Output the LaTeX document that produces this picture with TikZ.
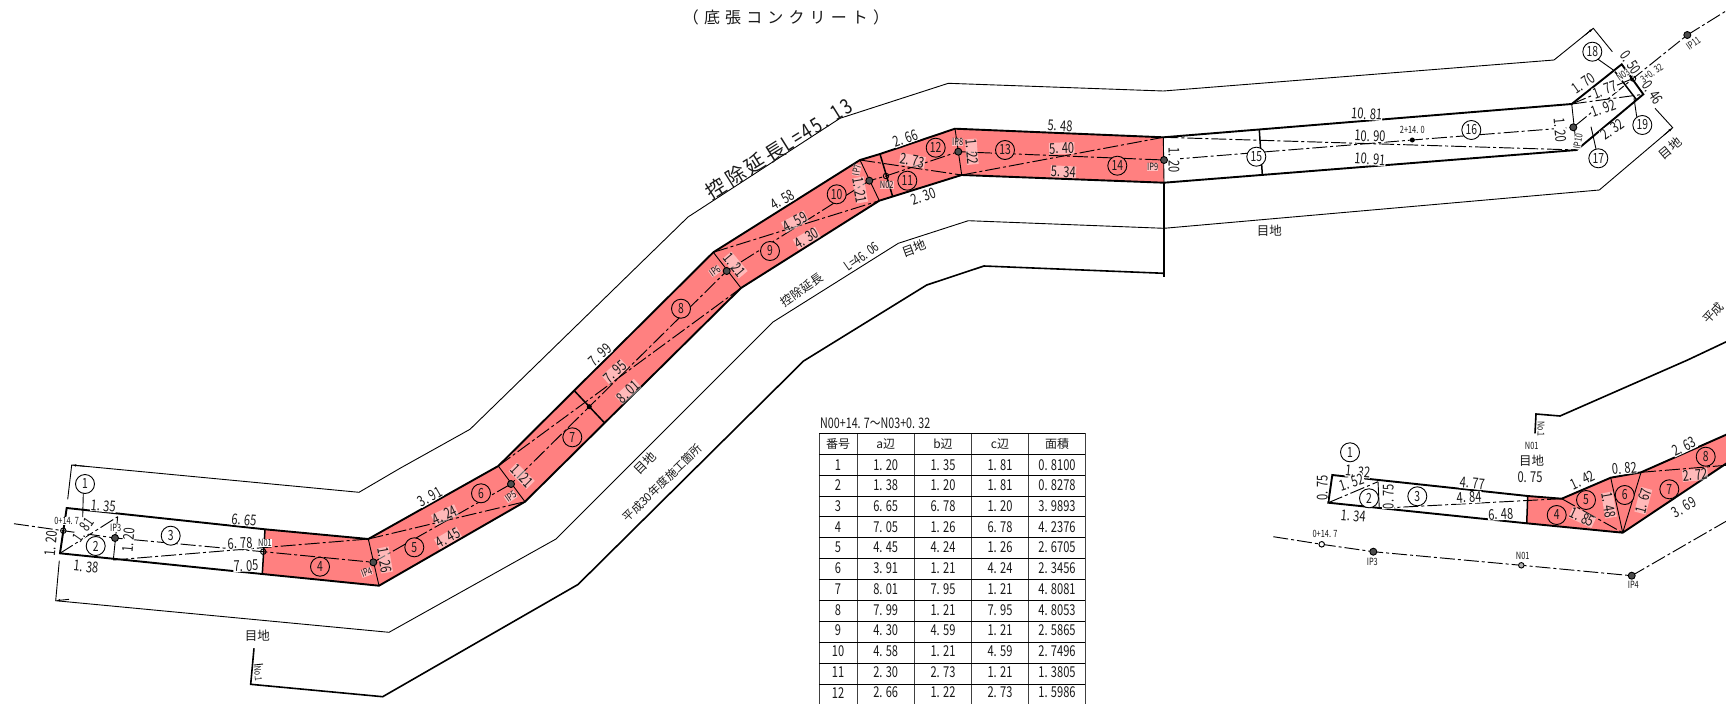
\documentclass[tikz,border=0pt]{standalone}
\usepackage{fontspec}
\usetikzlibrary{arrows.meta}
\setmainfont{Noto Sans CJK JP}
\newfontfamily\nar[FakeStretch=0.74]{Noto Sans CJK JP}
\newfontfamily\narsp[FakeStretch=0.8,LetterSpace=10]{Noto Sans CJK JP}
\newfontfamily\jp{Noto Sans CJK JP}
\newfontfamily\jpsp[LetterSpace=32]{Noto Sans CJK JP}
\newfontfamily\jpspb[LetterSpace=16]{Noto Sans CJK JP}
\definecolor{pink}{RGB}{255,128,128}
\definecolor{ink}{RGB}{25,25,25}
\newcount\lc
% auto-named labels: [rot]{x}{y}{text}
\newcommand{\dimW}[4][0]{\global\advance\lc by 1\node[dimw,rotate=#1] (w\the\lc) at (#2,#3) {#4};}
\newcommand{\dimR}[4][0]{\global\advance\lc by 1\node[dimr,rotate=#1] (r\the\lc) at (#2,#3) {#4};}
\newcommand{\tagW}[4][0]{\global\advance\lc by 1\node[tagw,rotate=#1] (g\the\lc) at (#2,#3) {#4};}
\newcommand{\tagR}[4][0]{\global\advance\lc by 1\node[tagr,rotate=#1] (h\the\lc) at (#2,#3) {#4};}
\newcommand{\kanji}[4][0]{\global\advance\lc by 1\node[kan,rotate=#1] (k\the\lc) at (#2,#3) {#4};}
\newcommand{\circW}[3]{\node[numw] (cw#3) at (#1,#2) {#3};}
\newcommand{\circR}[3]{\node[numr] (cr#3) at (#1,#2) {#3};}
\newcommand{\circS}[3]{\node[numw] (cs#3) at (#1,#2) {#3};}
\newcommand{\circT}[3]{\node[numr] (ct#3) at (#1,#2) {#3};}
\tikzset{
 edge/.style={line width=1.9pt,black,line join=miter},
 sect/.style={line width=1.5pt,black},
 thinsect/.style={line width=0.9pt,black},
 fine/.style={line width=0.9pt,black},
 chain/.style={line width=0.95pt,black,dash pattern=on 15pt off 3pt on 3pt off 3pt},
 dimw/.style={font=\nar\fontsize{15}{16}\selectfont,text=ink,fill=white,inner sep=0.3pt},
 dimr/.style={font=\nar\fontsize{15}{16}\selectfont,text=ink,fill=white,fill opacity=.45,text opacity=1,inner sep=0.3pt},
 tagw/.style={font=\nar\fontsize{10}{11}\selectfont,text=ink,fill=white,inner sep=0.2pt},
 tagr/.style={font=\nar\fontsize{10}{11}\selectfont,text=ink,fill=white,fill opacity=.5,text opacity=1,inner sep=0.2pt},
 kan/.style={font=\jp\fontsize{12.5}{14}\selectfont,text=ink,inner sep=0pt},
 numw/.style={circle,draw=black,line width=0.9pt,fill=white,minimum size=19pt,inner sep=0pt,font=\nar\fontsize{14}{15}\selectfont,text=ink},
 numr/.style={numw,fill=pink},
 ipt/.style={circle,draw=black,fill=black!70,line width=0.9pt,minimum size=7pt,inner sep=0pt},
 npt/.style={circle,draw=black,fill=none,line width=0.9pt,minimum size=5.5pt,inner sep=0pt},
 dpt/.style={circle,fill=black,minimum size=5pt,inner sep=0pt},
 cell/.style={font=\nar\fontsize{15}{16}\selectfont,text=ink,inner sep=0pt},
 arr/.style={line width=0.9pt,-{Latex[length=4.5pt,width=2.6pt]}},
}
\begin{document}
\begin{tikzpicture}[x=1pt,y=-1pt]
\useasboundingbox (0,0) rectangle (1726,704);
\clip (0,0) rectangle (1726,704);
% ---------- main outline points
\coordinate (T0) at (66.7,508);
\coordinate (Tn) at (265,529.3);
\coordinate (T1) at (368.3,539);
\coordinate (T2) at (498.3,466);
\coordinate (T3) at (713.3,252.3);
\coordinate (T4) at (860,160);
\coordinate (T4b) at (880,154);
\coordinate (T5) at (955,128.7);
\coordinate (T6) at (1163.3,137.3);
\coordinate (T7) at (1571.7,104);
\coordinate (T8) at (1621.7,64.3);
\coordinate (E) at (1643.3,94.3);
\coordinate (B7) at (1576.7,150);
\coordinate (B6) at (1164,182.7);
\coordinate (B5) at (961.7,175);
\coordinate (B4c) at (892.7,196.7);
\coordinate (B4) at (879.3,200.7);
\coordinate (B3) at (741,288);
\coordinate (B2) at (525,501.7);
\coordinate (B1) at (379,585.7);
\coordinate (Bn) at (262.3,574);
\coordinate (B0) at (60,553.3);
% station points
\coordinate (P0) at (63.3,530.7);
\coordinate (P3) at (115,538);
\coordinate (P4) at (263.3,551.7);
\coordinate (P5) at (373.3,562.3);
\coordinate (P6) at (511,484);
\coordinate (P7) at (589.3,406.7);
\coordinate (P8) at (726.7,271);
\coordinate (P9) at (869.3,180.7);
\coordinate (P10) at (886,176);
\coordinate (P11) at (958.3,151.7);
\coordinate (P12) at (1164,160);
\coordinate (P13) at (1412.3,140);
\coordinate (P14) at (1573.3,127.3);
\coordinate (P15) at (1633,78.5);
\coordinate (P16) at (1687.3,35);
\coordinate (Pa) at (14,523.7);
\coordinate (Pb) at (1730,8.5);
% red fill
\fill[pink] (Tn)--(T1)--(T2)--(T3)--(T4)--(T4b)--(T5)--(T6)--(B6)--(B5)--(B4)--(B3)--(B2)--(B1)--(Bn)--cycle;
% thin outer lines
\draw[fine] (67.7,499.3)--(71.7,465)--(359,492.3)--(400,468.3)--(470,429.3)--(688,217)--(840,118.3)--(948.3,83.3)--(1163.3,91)--(1554,60)--(1593.3,28.3)--(1612.3,51.7);
\draw[fine] (59.3,560.7)--(55.7,600.7)--(389,632.3)--(556,539)--(773,322)--(898.3,243.3)--(968.3,220.7)--(1164,228.3)--(1599.3,190)--(1672.7,127.7)--(1655,108.3);
\draw[arr] (85,466.3)--(71.7,465);
\draw[arr] (69,599.3)--(55.7,600.7);
\draw[arr] (1585,35)--(1593.3,28.3);
\draw[arr] (1664,135)--(1672.7,127.7);
% thick lower line
\draw[line width=1.6pt] (254,648.3)--(250.7,684.3)--(382.7,696.7)--(578,584.5)--(803.6,361)--(926.7,285)--(984,266)--(1164,273.3);
\draw[line width=1.3pt] (1164,182.7)--(1164,276.7);
\draw[fine] (254,665)--(263,664);
% diagonals
\draw[chain] (B0)--(117.7,516.7);
\draw[chain] (113.3,560)--(T1);
\draw[chain] (T1)--(B2);
\draw[chain] (T2)--(B3);
\draw[chain] (T3)--(B4);
\draw[chain] (T4)--(B5);
\draw[chain] (B5)--(T6);
\draw[chain] (T6)--(B7);
\draw[chain] (T7)--(E);
\draw[chain] (T7)--(P15);
% centre line
\draw[chain] (Pa)--(P0)--(P3)--(P4)--(P5)--(P6)--(P7)--(P8)--(P9)--(P10)--(P11)--(P12)--(P13)--(P14)--(P15)--(P16)--(Pb);
% thin sections
\draw[thinsect] (117.7,516.7)--(113.3,560);
\draw[thinsect] (T1)--(B1);
\draw[thinsect] (T2)--(B2);
\draw[thinsect] (T3)--(B3);
\draw[thinsect] (T4)--(B4);
\draw[thinsect] (T5)--(B5);
\draw[thinsect] (T6)--(B6);
\draw[thinsect] (T7)--(B7);
\draw[thinsect] (T0)--(B0);
% thick sections
\draw[sect] (Tn)--(Bn);
\draw[sect] (574.3,390.7)--(604,422.3);
\draw[sect] (T4b)--(B4c);
\draw[sect] (1259.3,130)--(1262.3,174.3);
\draw[sect] (1615,71.7)--(1636.7,100);
% outline
\draw[edge] (T0)--(Tn)--(T1)--(T2)--(T3)--(T4)--(T4b)--(T5)--(T6)--(T7)--(T8)--(E)--(B7)--(B6)--(B5)--(B4)--(B3)--(B2)--(B1)--(Bn)--(B0)--cycle;
% leaders
\draw[fine] (83.3,493)--(82.7,517);
\draw[fine] (1596.7,58.3)--(1613.3,70);
\draw[fine] (1636.7,116.7)--(1634,98.3);
\draw[fine] (1596,149)--(1591,126.7);
% points
\node[npt] (n0) at (P0) {};
\node[ipt] (i3) at (P3) {};
\node[npt] (n1) at (P4) {};
\node[ipt] (i4) at (P5) {};
\node[ipt] (i5) at (P6) {};
\node[dpt] (n15) at (P7) {};
\node[ipt] (i6) at (P8) {};
\node[ipt] (i7) at (P9) {};
\node[npt] (n2) at (P10) {};
\node[ipt] (i8) at (P11) {};
\node[ipt] (i9) at (P12) {};
\node[dpt] (n24) at (P13) {};
\node[ipt] (i10) at (P14) {};
\node[npt] (n3) at (P15) {};
\node[ipt] (i11) at (P16) {};
% dimension labels, white part
\dimW[-5]{103.3}{506}{1. 35}
\dimW[-5]{244}{520}{6. 65}
\dimW[3]{240}{543.3}{6. 78}
\dimW[2]{246}{565.7}{7. 05}
\dimW[-6]{86}{566.7}{1. 38}
\dimW[85]{50.7}{543.3}{1. 20}
\dimW[85]{128.3}{540}{1. 20}
\dimW[55]{83.3}{530}{1. 81}
\tagW{66.7}{521}{0+14. 7}
\tagW{115.7}{527.7}{IP3}
\tagW{265}{542.7}{N01}
\dimW[30]{430}{496.7}{3. 91}
\dimW[42]{600}{355}{7. 99}
\dimW[30]{782.7}{200}{4. 58}
\dimW[20]{905.7}{138.3}{2. 66}
\dimW[20]{923.3}{196.7}{2. 30}
\dimW[-3]{1060}{125.7}{5. 48}
\dimW[-90]{1174}{160}{1. 20}
\dimW[-4]{1366.7}{114}{10. 81}
\dimW[-2]{1370}{136}{10. 90}
\dimW[-4]{1370}{159.3}{10. 91}
\tagW{1412.3}{130}{2+14. 0}
\dimW[-85]{1560}{130}{1. 20}
\tagW[80]{1578}{141.7}{IP10}
\dimW[35]{1583.3}{83.3}{1. 70}
\dimW[20]{1605}{90}{1. 77}
\dimW[20]{1603.3}{108.3}{1. 92}
\dimW[35]{1612.7}{129.3}{2. 32}
\dimW[-55]{1630.7}{62.7}{0. 50}
\tagW[35]{1623}{75}{N03}
\tagW[35]{1651.7}{73.3}{3+0. 32}
\dimW[-55]{1652.7}{92.7}{0. 46}
\tagW[35]{1693.3}{43.3}{IP11}
% labels on red
\tagR[20]{366.7}{572.3}{IP4}
\dimR[-80]{385}{560}{1. 26}
\dimR[25]{445}{515}{4. 24}
\dimR[30]{448}{538}{4. 45}
\dimR[-45]{521.7}{476}{1. 21}
\tagR[35]{510.7}{496.7}{IP5}
\dimR[42]{615}{371.7}{7. 95}
\dimR[42]{628.3}{391.7}{8. 01}
\dimR[-50]{735}{265}{1. 21}
\tagR[35]{715}{271}{IP6}
\dimR[28]{795}{221.7}{4. 59}
\dimR[30]{806.7}{238.3}{4. 30}
\dimR[-10]{912.3}{160.7}{2. 73}
\dimR[-80]{860}{190}{1. 21}
\tagR[80]{856.7}{170}{IP7}
\tagR{886.7}{185}{N02}
\tagR{957.7}{142.3}{IP8}
\dimR[-85]{971.7}{151.7}{1. 22}
\dimR[2]{1061.7}{148.3}{5. 40}
\dimR[-3]{1063.3}{171.7}{5. 34}
\tagR{1152.7}{167.3}{IP9}
% circled numbers
\circW{85}{484}{1}
\circW{95.7}{546}{2}
\circW{170.7}{535.7}{3}
\circR{320}{566.7}{4}
\circR{414.3}{547.3}{5}
\circR{481}{493.3}{6}
\circR{572.3}{437.3}{7}
\circR{681}{308.7}{8}
\circR{770}{251}{9}
\circR{836.7}{194.3}{10}
\circR{907.3}{180.7}{11}
\circR{935.7}{147.7}{12}
\circR{1005}{150}{13}
\circR{1117.3}{165.7}{14}
\circW{1256.3}{156.7}{15}
\circW{1471.3}{130}{16}
\circW{1598.3}{158.3}{17}
\circW{1592.3}{51.7}{18}
\circW{1642.3}{125}{19}
% kanji labels
\node[font=\jpsp\fontsize{16}{18}\selectfont,text=ink,inner sep=0pt] (title) at (786,17.6) {（底張コンクリート）};
\node[font=\jpspb\fontsize{20}{22}\selectfont,text=ink,inner sep=0pt,rotate=32] (lenA) at (779,149) {控除延長{\narsp\fontsize{21}{22}\selectfont L=45. 13}};
\node[font=\jp\fontsize{12}{14}\selectfont,text=ink,inner sep=0pt,rotate=35] (lenB1) at (801.7,290) {控除延長};
\node[font=\nar\fontsize{13.5}{14}\selectfont,text=ink,inner sep=0pt,rotate=35] (lenB2) at (861.7,256.7) {L=46. 06};
\kanji[20]{914.3}{248.3}{目地}
\kanji{257.3}{635.7}{目地}
\kanji{1269.3}{231}{目地}
\kanji[40]{1670}{148.3}{目地}
\kanji[45]{645}{463}{目地}
\node[font=\jp\fontsize{11.5}{14}\selectfont,text=ink,inner sep=0pt,rotate=44] (heisei) at (662.5,483) {平成30年度施工箇所};
\node[font=\nar\fontsize{9.5}{10}\selectfont,text=ink,inner sep=0pt,rotate=-85] (no1a) at (258,674) {No.1};
% ---------- table
\node[font=\nar\fontsize{14.5}{15}\selectfont,text=ink,inner sep=0pt,anchor=west] (ttl) at (820,423.3) {N00+14. 7～N03+0. 32};
\foreach \xx in {819.3,857.3,914.3,971.7,1028.7,1085.3}
  \draw[line width=1pt,black!75] (\xx,433.3)--(\xx,704);
\foreach \yy in {433.3,454.3,475.3,496,516.7,537.7,558.3,579.3,600.7,621.3,642.3,663.3,684}
  \draw[line width=1pt,black] (819.3,\yy)--(1085.3,\yy);
\node[font=\jp\fontsize{12}{13}\selectfont,text=ink,inner sep=0pt] (h0) at (838,444) {番号};
\node[font=\jp\fontsize{12}{13}\selectfont,text=ink,inner sep=0pt] (h1) at (885.7,444) {a辺};
\node[font=\jp\fontsize{12}{13}\selectfont,text=ink,inner sep=0pt] (h2) at (943,444) {b辺};
\node[font=\jp\fontsize{12}{13}\selectfont,text=ink,inner sep=0pt] (h3) at (1000,444) {c辺};
\node[font=\jp\fontsize{12}{13}\selectfont,text=ink,inner sep=0pt] (h4) at (1057,444) {面積};
\foreach \n/\a/\b/\c/\s in {
 1/1. 20/1. 35/1. 81/0. 8100, 2/1. 38/1. 20/1. 81/0. 8278, 3/6. 65/6. 78/1. 20/3. 9893,
 4/7. 05/1. 26/6. 78/4. 2376, 5/4. 45/4. 24/1. 26/2. 6705, 6/3. 91/1. 21/4. 24/2. 3456,
 7/8. 01/7. 95/1. 21/4. 8081, 8/7. 99/1. 21/7. 95/4. 8053, 9/4. 30/4. 59/1. 21/2. 5865,
 10/4. 58/1. 21/4. 59/2. 7496, 11/2. 30/2. 73/1. 21/1. 3805, 12/2. 66/1. 22/2. 73/1. 5986}{
  \node[cell] (t\n n) at (838,{444+20.72*\n}) {\n};
  \node[cell] (t\n a) at (885.7,{444+20.72*\n}) {\a};
  \node[cell] (t\n b) at (943,{444+20.72*\n}) {\b};
  \node[cell] (t\n c) at (1000,{444+20.72*\n}) {\c};
  \node[cell] (t\n s) at (1057,{444+20.72*\n}) {\s};
}
% ---------- second plan, lower right
\coordinate (a0) at (1332.3,475);
\coordinate (a1) at (1378,481.7);
\coordinate (an) at (1527.7,496);
\coordinate (a2) at (1561.7,498.7);
\coordinate (a3) at (1610.7,477.7);
\coordinate (a4) at (1641,472.3);
\coordinate (a5) at (1730,433);
\coordinate (b0) at (1328.3,502.7);
\coordinate (b1) at (1379.3,508.3);
\coordinate (bn) at (1526.7,523.3);
\coordinate (b2) at (1622.7,532.7);
\coordinate (b3) at (1730,461);
\coordinate (a6) at (1730,465);
\fill[pink] (an)--(a2)--(a3)--(a4)--(a5)--(b3)--(b2)--(bn)--cycle;
\draw[chain] (b0)--(a1);
\draw[chain] (b1)--(a2);
\draw[chain] (a2)--(b2);
\draw[chain] (a4)--(a6);
\draw[thinsect] (a1)--(b1);
\draw[thinsect] (a3)--(b2);
\draw[thinsect] (a4)--(b2);
\draw[sect] (an)--(bn);
\draw[edge] (a5)--(a4)--(a3)--(a2)--(an)--(a0)--(b0)--(bn)--(b2)--(b3);
\dimW[-5]{1357.7}{471.7}{1. 32}
\dimW[18]{1351.7}{482.3}{1. 52}
\dimW[90]{1322.3}{488}{0. 75}
\dimW[90]{1388.3}{496.7}{0. 75}
\dimW[-5]{1353.3}{516}{1. 34}
\dimW[-5]{1472.3}{483.3}{4. 77}
\dimW[3]{1469}{497.3}{4. 84}
\dimW[3]{1500.7}{514.3}{6. 48}
\tagW{1531.7}{446}{N01}
\kanji{1531.7}{460.7}{目地}
\dimW{1530}{477.3}{0. 75}
\dimW[25]{1582.7}{480}{1. 42}
\dimW[5]{1624.3}{468.3}{0. 82}
\dimW[25]{1684}{446.7}{2. 63}
\dimR[5]{1695}{475}{2. 72}
\dimW[30]{1684}{507.3}{3. 69}
\dimR[-25]{1582.3}{517.3}{1. 85}
\dimR[-80]{1609}{505}{1. 48}
\dimR[75]{1643.3}{500.7}{1. 67}
\circS{1350}{452.3}{1}
\circS{1369}{498.3}{2}
\circS{1417.3}{496.3}{3}
\circT{1556.7}{515}{4}
\circT{1586}{500}{5}
\circT{1624.7}{495}{6}
\circT{1669.3}{489.3}{7}
\circT{1705.7}{456.7}{8}
% thick stub
\draw[line width=1.6pt] (1535,433.3)--(1536,414)--(1560,416)--(1687.6,360)--(1730,340);
\node[font=\nar\fontsize{9.5}{10}\selectfont,text=ink,inner sep=0pt,rotate=-90] (no1b) at (1541,429.3) {No.1};
\node[font=\jp\fontsize{12}{14}\selectfont,text=ink,inner sep=0pt,rotate=47,anchor=west] (heisei2) at (1705,322) {平成};
% centre line of second plan
\coordinate (q0) at (1273.3,536.7);
\coordinate (q1) at (1321.7,544.3);
\coordinate (q2) at (1373.3,551.7);
\coordinate (q3) at (1521.3,565.3);
\coordinate (q4) at (1631.7,575.7);
\coordinate (q5) at (1730,519);
\draw[chain] (q0)--(q1)--(q2)--(q3)--(q4)--(q5);
\node[circle,draw=black,fill=white,line width=1pt,minimum size=5.5pt,inner sep=0pt] (q1p) at (q1) {};
\node[ipt] (q2p) at (q2) {};
\node[npt,fill=black!30] (q3p) at (q3) {};
\node[ipt] (q4p) at (q4) {};
\tagW{1325}{534.3}{0+14. 7}
\tagW{1372.3}{561.7}{IP3}
\tagW{1522.7}{556}{N01}
\tagW{1633.3}{585}{IP4}
\end{tikzpicture}
\end{document}
